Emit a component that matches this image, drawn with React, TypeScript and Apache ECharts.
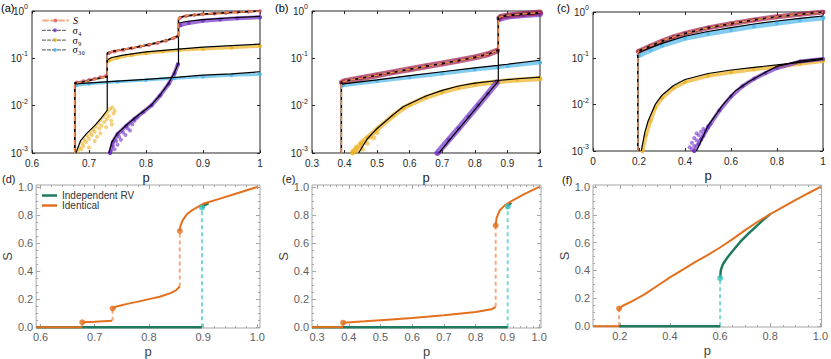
import React, { useEffect, useRef } from 'react';
import * as echarts from 'echarts';

type P = [number, number];

// ================= Panel (a) =================
const aSTheory: P[] = [[0.675,0.001],[0.675,0.03],[0.69,0.032],[0.71,0.036],[0.732,0.041],[0.732,0.13],[0.74,0.14],[0.76,0.155],[0.78,0.17],[0.8,0.19],[0.82,0.215],[0.84,0.25],[0.857,0.295],[0.857,0.68],[0.86,0.74],[0.87,0.79],[0.9,0.86],[0.94,0.92],[1,1.0]];
const aS4Theory: P[] = [[0.735,0.001],[0.74,0.0017],[0.75,0.0026],[0.765,0.0038],[0.78,0.0055],[0.795,0.0075],[0.81,0.0105],[0.825,0.017],[0.84,0.03],[0.85,0.05],[0.857,0.08],[0.857,0.55],[0.87,0.6],[0.9,0.66],[0.95,0.72],[1,0.77]];
const aS9Theory: P[] = [[0.677,0.001],[0.685,0.0018],[0.696,0.0026],[0.71,0.0038],[0.72,0.0052],[0.732,0.008],[0.732,0.093],[0.74,0.104],[0.76,0.117],[0.8,0.137],[0.857,0.157],[0.9,0.172],[0.95,0.186],[1,0.2]];
const aS30Theory: P[] = [[0.675,0.001],[0.675,0.029],[0.75,0.033],[0.8,0.036],[0.857,0.04],[0.9,0.044],[0.95,0.047],[1,0.052]];
const aSSim: P[][] = [
  [[0.678,0.031],[0.69,0.033],[0.70,0.035],[0.71,0.037],[0.72,0.04],[0.73,0.043]],
  [[0.735,0.13],[0.745,0.14],[0.76,0.15],[0.775,0.163],[0.79,0.177],[0.805,0.192],[0.82,0.21],[0.835,0.235],[0.848,0.265],[0.855,0.29]],
  [[0.86,0.72],[0.87,0.78],[0.885,0.82],[0.9,0.85],[0.92,0.88],[0.94,0.91],[0.96,0.94],[0.98,0.97],[1,1]],
];
const aS4Sim: P[][] = [
  [[0.737,0.001],[0.742,0.0017],[0.75,0.0025],[0.765,0.0037],[0.78,0.0053],[0.795,0.0073],[0.81,0.0102],[0.825,0.0165],[0.84,0.029],[0.85,0.048],[0.856,0.075]],
  [[0.86,0.5],[0.875,0.56],[0.9,0.62],[0.93,0.66],[0.96,0.7],[1,0.74]],
];
const aS9Sim: P[][] = [
  [[0.735,0.09],[0.75,0.103],[0.775,0.117],[0.8,0.128],[0.83,0.14],[0.857,0.148],[0.9,0.158],[0.95,0.168],[1,0.18]],
];
const aS30Sim: P[][] = [
  [[0.678,0.027],[0.7,0.029],[0.75,0.032],[0.8,0.035],[0.85,0.038],[0.9,0.041],[0.95,0.044],[1,0.046]],
];
const aS9Cloud: P[] = [[0.68,0.0011],[0.683,0.0013],[0.686,0.0012],[0.688,0.0016],[0.69,0.0014],[0.692,0.0019],[0.695,0.0017],[0.697,0.0023],[0.7,0.002],[0.702,0.0027],[0.705,0.0024],[0.707,0.0031],[0.71,0.0028],[0.712,0.0036],[0.714,0.0022],[0.716,0.0042],[0.718,0.0033],[0.72,0.005],[0.722,0.0038],[0.725,0.0058],[0.727,0.0045],[0.729,0.0066],[0.731,0.0052],[0.733,0.0075],[0.735,0.006],[0.737,0.0085],[0.739,0.0048],[0.741,0.0092],[0.743,0.0068],[0.745,0.0079],[0.7,0.0013],[0.71,0.0018],[0.72,0.0026],[0.73,0.0035],[0.74,0.004]];
const aS4Cloud: P[] = [[0.738,0.0011],[0.742,0.0014],[0.745,0.0012],[0.748,0.0018],[0.75,0.0015],[0.753,0.0022],[0.756,0.0019],[0.76,0.0027],[0.764,0.0024],[0.768,0.0033],[0.772,0.003],[0.776,0.004],[0.78,0.0048],[0.785,0.0056]];

// ================= Panel (b) =================
const bSTheory: P[] = [[0.39,0.001],[0.39,0.031],[0.4,0.033],[0.45,0.038],[0.5,0.044],[0.55,0.051],[0.6,0.059],[0.65,0.068],[0.7,0.078],[0.75,0.09],[0.8,0.105],[0.84,0.122],[0.872,0.15],[0.872,0.72],[0.88,0.77],[0.9,0.81],[0.95,0.87],[1,0.93]];
const bS30Theory: P[] = [[0.39,0.0285],[0.5,0.035],[0.6,0.043],[0.7,0.052],[0.8,0.063],[0.87,0.071],[0.9,0.075],[1,0.091]];
const bS9Theory: P[] = [[0.443,0.001],[0.47,0.002],[0.5,0.0033],[0.55,0.0065],[0.58,0.0095],[0.65,0.016],[0.7,0.021],[0.75,0.026],[0.8,0.03],[0.872,0.034],[0.93,0.037],[1,0.04]];
const bS4Theory: P[] = [[0.69,0.001],[0.72,0.0018],[0.75,0.0032],[0.78,0.0056],[0.81,0.01],[0.84,0.018],[0.872,0.033],[0.872,0.72],[0.88,0.76],[0.9,0.8],[0.95,0.85],[1,0.89]];
const bSSim: P[][] = [
  [[0.392,0.031],[0.4,0.033],[0.45,0.038],[0.5,0.044],[0.55,0.051],[0.6,0.059],[0.65,0.068],[0.7,0.078],[0.75,0.09],[0.8,0.105],[0.84,0.122],[0.868,0.145]],
  [[0.876,0.72],[0.88,0.76],[0.9,0.8],[0.95,0.87],[1,0.93]],
];
const bS30Sim: P[][] = [[[0.395,0.027],[0.5,0.033],[0.6,0.04],[0.7,0.048],[0.8,0.058],[0.87,0.065],[0.9,0.069],[1,0.082]]];
const bS9Sim: P[][] = [[[0.425,0.001],[0.45,0.0016],[0.47,0.0021],[0.5,0.0032],[0.55,0.0062],[0.58,0.0088],[0.6,0.0105],[0.65,0.015],[0.7,0.0195],[0.75,0.024],[0.8,0.028],[0.87,0.032],[0.93,0.035],[1,0.037]]];
const bS4Sim: P[][] = [
  [[0.685,0.001],[0.72,0.0019],[0.75,0.0033],[0.78,0.0058],[0.81,0.0102],[0.84,0.018],[0.868,0.031]],
  [[0.876,0.68],[0.9,0.76],[0.95,0.82],[1,0.86]],
];
const bS9Cloud: P[] = [[0.425,0.0011],[0.435,0.0013],[0.44,0.0011],[0.45,0.0014],[0.455,0.0012],[0.46,0.0017],[0.47,0.0016],[0.48,0.0022],[0.49,0.0021],[0.5,0.0027]];

// ================= Panel (c) =================
const cSTheory: P[] = [[0.195,0.001],[0.195,0.135],[0.2,0.145],[0.25,0.185],[0.3,0.235],[0.35,0.29],[0.4,0.345],[0.5,0.455],[0.6,0.56],[0.7,0.675],[0.8,0.79],[0.9,0.895],[1,1.0]];
const cS30Theory: P[] = [[0.195,0.13],[0.25,0.17],[0.3,0.21],[0.4,0.3],[0.5,0.38],[0.6,0.46],[0.7,0.55],[0.8,0.64],[0.9,0.73],[1,0.82]];
const cS9Theory: P[] = [[0.21,0.001],[0.225,0.0025],[0.24,0.0045],[0.27,0.01],[0.3,0.016],[0.35,0.026],[0.4,0.035],[0.5,0.047],[0.6,0.056],[0.7,0.064],[0.8,0.072],[0.9,0.082],[1,0.095]];
const cS4Theory: P[] = [[0.45,0.001],[0.5,0.0035],[0.565,0.01],[0.62,0.02],[0.675,0.031],[0.75,0.05],[0.8,0.067],[0.9,0.088],[1,0.1]];
const cSSim: P[][] = [[[0.197,0.14],[0.25,0.185],[0.3,0.235],[0.35,0.29],[0.4,0.345],[0.5,0.455],[0.6,0.56],[0.7,0.675],[0.8,0.79],[0.9,0.895],[1,1.0]]];
const cS30Sim: P[][] = [[[0.2,0.115],[0.25,0.15],[0.3,0.19],[0.4,0.27],[0.5,0.34],[0.6,0.41],[0.7,0.49],[0.8,0.57],[0.9,0.66],[1,0.74]]];
const cS9Sim: P[][] = [[[0.215,0.001],[0.23,0.0022],[0.25,0.0045],[0.27,0.0085],[0.3,0.014],[0.35,0.023],[0.4,0.031],[0.5,0.042],[0.6,0.05],[0.7,0.058],[0.8,0.066],[0.9,0.076],[1,0.088]]];
const cS4Sim: P[][] = [[[0.44,0.001],[0.47,0.0018],[0.5,0.0032],[0.55,0.0075],[0.6,0.015],[0.65,0.025],[0.7,0.036],[0.75,0.048],[0.8,0.062],[0.9,0.085],[1,0.097]]];
const cS4Cloud: P[] = [[0.42,0.0012],[0.43,0.0015],[0.44,0.0013],[0.44,0.0019],[0.45,0.0017],[0.46,0.0022],[0.46,0.0014],[0.47,0.0026],[0.48,0.0021],[0.48,0.003],[0.49,0.0027],[0.5,0.0034],[0.51,0.0038],[0.43,0.0011],[0.45,0.0024],[0.47,0.0018]];

// ================= Panel (d) =================
const dIdentical: P[][] = [
  [[0.592,0],[0.677,0]],
  [[0.677,0.035],[0.7,0.039],[0.732,0.045]],
  [[0.733,0.133],[0.74,0.147],[0.76,0.166],[0.78,0.182],[0.8,0.2],[0.82,0.217],[0.84,0.243],[0.85,0.262],[0.857,0.29]],
  [[0.857,0.686],[0.858,0.72],[0.862,0.76],[0.87,0.805],[0.88,0.835],[0.9,0.88],[0.93,0.915],[0.96,0.952],[1,1.0]],
];
const dIdenticalJumps: P[][] = [[[0.677,0],[0.677,0.035]],[[0.733,0.045],[0.733,0.133]],[[0.857,0.29],[0.857,0.686]]];
const dIdenticalDots: P[] = [[0.677,0.035],[0.733,0.133],[0.857,0.686]];
const dIndependent: P[][] = [[[0.592,0],[0.898,0]],[[0.898,0.852],[0.903,0.87],[0.91,0.885]]];
const dIndependentJumps: P[][] = [[[0.898,0],[0.898,0.852]]];
const dIndependentDots: P[] = [[0.898,0.852]];

// ================= Panel (e) =================
const eIdentical: P[][] = [
  [[0.284,0],[0.382,0]],
  [[0.382,0.032],[0.45,0.042],[0.5,0.05],[0.6,0.066],[0.7,0.085],[0.8,0.108],[0.85,0.127],[0.863,0.145]],
  [[0.863,0.725],[0.866,0.78],[0.875,0.83],[0.89,0.865],[0.91,0.895],[0.95,0.945],[1,1.0]],
];
const eIdenticalJumps: P[][] = [[[0.382,0],[0.382,0.032]],[[0.863,0.145],[0.863,0.725]]];
const eIdenticalDots: P[] = [[0.382,0.032],[0.863,0.725]];
const eIndependent: P[][] = [[[0.284,0],[0.901,0]],[[0.901,0.86],[0.906,0.875],[0.912,0.887]]];
const eIndependentJumps: P[][] = [[[0.901,0],[0.901,0.86]]];
const eIndependentDots: P[] = [[0.901,0.86]];

// ================= Panel (f) =================
const fIdentical: P[][] = [
  [[0.093,0],[0.197,0]],
  [[0.197,0.127],[0.21,0.145],[0.25,0.18],[0.3,0.23],[0.35,0.29],[0.4,0.35],[0.45,0.405],[0.5,0.46],[0.55,0.51],[0.6,0.565],[0.65,0.625],[0.7,0.69],[0.75,0.75],[0.8,0.805],[0.85,0.855],[0.9,0.905],[0.95,0.953],[1,1.0]],
];
const fIdenticalJumps: P[][] = [[[0.197,0],[0.197,0.127]]];
const fIdenticalDots: P[] = [[0.197,0.127]];
const fIndependent: P[][] = [
  [[0.197,0],[0.6,0]],
  [[0.6,0.345],[0.603,0.4],[0.61,0.44],[0.62,0.47],[0.63,0.495],[0.65,0.54],[0.68,0.605],[0.71,0.66],[0.74,0.71],[0.77,0.76],[0.8,0.805]],
];
const fIndependentJumps: P[][] = [[[0.6,0],[0.6,0.345]]];
const fIndependentDots: P[] = [[0.6,0.345]];

// ================= Ticks & labels =================
const dXTicks = [0.6, 0.7, 0.8, 0.9, 1.0];
const eXTicks = [0.3, 0.4, 0.5, 0.6, 0.7, 0.8, 0.9, 1.0];
const fXTicks = [0.2, 0.4, 0.6, 0.8, 1.0];
const bottomYTicks = [0, 0.2, 0.4, 0.6, 0.8, 1.0];
const topLegendNames = ['S', 'σ₄', 'σ₉', 'σ₃₀'];
const bottomLegendNames = ['Independent RV', 'Identical'];
const panelLetters = ['(a)', '(b)', '(c)', '(d)', '(e)', '(f)'];

const SANS = '"Liberation Sans", Arial, Helvetica, sans-serif';
const SERIF = '"Liberation Serif", "DejaVu Serif", "Times New Roman", serif';

const C = {
  sA: '#d9546b', s: '#a3204d', s4: '#7231c6', s9: '#edb120', s30: '#4db6e8',
  dash: '#f2874e', orange: '#e2701e', green: '#1f7a5f', orangeLight: '#f5a97c',
  cyan: '#7ad8d4', cyanDot: '#35c4bd', frameTop: '#262626', frameBot: '#a6a6a6', labelBot: '#606060',
};

function minorTicks(a: number, b: number, step: number, major: number[]): number[] {
  const out: number[] = [];
  for (let k = 0; ; k++) {
    const v = +(a + k * step).toFixed(6);
    if (v > b + 1e-9) break;
    if (!major.some((m) => Math.abs(m - v) < 1e-6)) out.push(v);
  }
  return out;
}

function buildOption() {
  const grid: any[] = [];
  const xAxis: any[] = [];
  const yAxis: any[] = [];
  const series: any[] = [];

  const topPanel = (rect: any, xmin: number, xmax: number, xint: number) => {
    const gi = grid.length;
    grid.push({ ...rect, show: true, borderColor: C.frameTop, borderWidth: 1, backgroundColor: 'rgba(0,0,0,0)' });
    const tick = { inside: true, length: 3, lineStyle: { color: C.frameTop, width: 1 } };
    const xb = { type: 'value', gridIndex: gi, min: xmin, max: xmax, interval: xint, axisLine: { show: false, onZero: false }, splitLine: { show: false } };
    const xi = xAxis.length;
    xAxis.push({
      ...xb, position: 'bottom', axisTick: tick,
      axisLabel: { color: C.frameTop, fontSize: 10, fontFamily: SANS, margin: 5, formatter: (v: number) => String(Math.round(v * 10) / 10) },
      name: 'p', nameLocation: 'middle', nameGap: 18, nameTextStyle: { color: C.frameTop, fontSize: 13, fontFamily: SANS },
    });
    xAxis.push({ ...xb, position: 'top', axisTick: tick, axisLabel: { show: false } });
    const yb = { type: 'log', logBase: 10, gridIndex: gi, min: 0.001, max: 1, axisLine: { show: false, onZero: false }, splitLine: { show: false } };
    const yi = yAxis.length;
    yAxis.push({
      ...yb, position: 'left', axisTick: tick,
      axisLabel: {
        margin: 4,
        formatter: (v: number) => `{b|10}{s|${Math.round(Math.log10(v))}}`,
        rich: {
          b: { fontSize: 10, fontFamily: SANS, color: C.frameTop, lineHeight: 16 },
          s: { fontSize: 7, fontFamily: SANS, color: C.frameTop, verticalAlign: 'top' },
        },
      },
    });
    yAxis.push({ ...yb, position: 'right', axisTick: tick, axisLabel: { show: false } });
    return { xi, yi };
  };

  const botPanel = (rect: any, xmin: number, xmax: number, xMaj: number[], xMin: number[]) => {
    const gi = grid.length;
    grid.push({ ...rect, show: true, borderColor: C.frameBot, borderWidth: 1, backgroundColor: 'rgba(0,0,0,0)' });
    const tk = (len: number, vals: number[]) => ({ inside: true, length: len, lineStyle: { color: C.frameBot, width: 1 }, customValues: vals });
    const xb = { type: 'value', gridIndex: gi, min: xmin, max: xmax, axisLine: { show: false, onZero: false }, splitLine: { show: false } };
    const xi = xAxis.length;
    xAxis.push({
      ...xb, position: 'bottom', axisTick: tk(4, xMaj),
      axisLabel: { customValues: xMaj, color: C.labelBot, fontSize: 11, fontFamily: SANS, margin: 3, formatter: (v: number) => v.toFixed(1) },
      name: 'p', nameLocation: 'middle', nameGap: 17, nameTextStyle: { color: '#444', fontSize: 13, fontFamily: SANS },
    });
    xAxis.push({ ...xb, position: 'bottom', axisTick: tk(2, xMin), axisLabel: { show: false } });
    xAxis.push({ ...xb, position: 'top', axisTick: tk(4, xMaj), axisLabel: { show: false } });
    xAxis.push({ ...xb, position: 'top', axisTick: tk(2, xMin), axisLabel: { show: false } });
    const yMin = minorTicks(0, 1, 0.05, bottomYTicks);
    const yb = { type: 'value', gridIndex: gi, min: -0.006, max: 1.014, axisLine: { show: false, onZero: false }, splitLine: { show: false } };
    const yi = yAxis.length;
    yAxis.push({
      ...yb, position: 'left', axisTick: tk(4, bottomYTicks),
      axisLabel: { customValues: bottomYTicks, color: C.labelBot, fontSize: 11, fontFamily: SANS, margin: 3, formatter: (v: number) => v.toFixed(1) },
      name: 'S', nameLocation: 'middle', nameGap: 19, nameRotate: 90, nameTextStyle: { color: '#444', fontSize: 13, fontFamily: SANS },
    });
    yAxis.push({ ...yb, position: 'left', axisTick: tk(2, yMin), axisLabel: { show: false } });
    yAxis.push({ ...yb, position: 'right', axisTick: tk(4, bottomYTicks), axisLabel: { show: false } });
    yAxis.push({ ...yb, position: 'right', axisTick: tk(2, yMin), axisLabel: { show: false } });
    return { xi, yi };
  };

  type Ax = { xi: number; yi: number };
  const theory = (ax: Ax, data: P[], width = 1.2) =>
    series.push({ type: 'line', xAxisIndex: ax.xi, yAxisIndex: ax.yi, data, symbol: 'none', silent: true, lineStyle: { color: '#000', width }, z: 4 });
  const sLine = (ax: Ax, data: P[]) => {
    series.push({ type: 'line', xAxisIndex: ax.xi, yAxisIndex: ax.yi, data, symbol: 'none', silent: true, lineStyle: { color: '#000', width: 1.6 }, z: 5 });
    series.push({ type: 'line', xAxisIndex: ax.xi, yAxisIndex: ax.yi, data, symbol: 'none', silent: true, lineStyle: { color: C.dash, width: 1.6, type: [5, 3] }, z: 6 });
  };
  const band = (ax: Ax, segs: P[][], color: string, width: number, name?: string, size = 4) =>
    segs.forEach((seg) =>
      series.push({
        type: 'line', name, xAxisIndex: ax.xi, yAxisIndex: ax.yi, data: seg, symbol: 'circle', symbolSize: size,
        showSymbol: true, showAllSymbol: true, silent: true, z: 2,
        itemStyle: { color, opacity: 0.75 }, lineStyle: { color, width, opacity: 0.7, cap: 'round', join: 'round' },
      }));
  const cloud = (ax: Ax, data: P[], color: string, size = 4) =>
    series.push({ type: 'scatter', xAxisIndex: ax.xi, yAxisIndex: ax.yi, data, symbolSize: size, silent: true, z: 2, itemStyle: { color, opacity: 0.6 } });
  const solid = (ax: Ax, segs: P[][], color: string, width: number, name?: string) =>
    segs.forEach((seg) => series.push({ type: 'line', name, xAxisIndex: ax.xi, yAxisIndex: ax.yi, data: seg, symbol: 'none', silent: true, z: 3, itemStyle: { color }, lineStyle: { color, width } }));
  const dashed = (ax: Ax, segs: P[][], color: string) =>
    segs.forEach((seg) => series.push({ type: 'line', xAxisIndex: ax.xi, yAxisIndex: ax.yi, data: seg, symbol: 'none', silent: true, z: 2, lineStyle: { color, width: 2, type: [4, 3] } }));
  const dots = (ax: Ax, data: P[], color: string) =>
    series.push({ type: 'scatter', xAxisIndex: ax.xi, yAxisIndex: ax.yi, data, symbolSize: 6, silent: true, z: 5, itemStyle: { color } });

  // ---- top row ----
  const A = topPanel({ left: 32, top: 11, width: 228, height: 142 }, 0.6, 1, 0.1);
  band(A, aSSim, C.sA, 2, topLegendNames[0], 4);
  band(A, aS4Sim, C.s4, 4, topLegendNames[1]);
  band(A, aS9Sim, C.s9, 3, topLegendNames[2]);
  band(A, aS30Sim, C.s30, 3, topLegendNames[3]);
  cloud(A, aS9Cloud, C.s9);
  cloud(A, aS4Cloud, C.s4);
  theory(A, aS30Theory); theory(A, aS9Theory); theory(A, aS4Theory);
  sLine(A, aSTheory);

  const B = topPanel({ left: 312, top: 11, width: 228, height: 142 }, 0.3, 1, 0.1);
  band(B, bS30Sim, C.s30, 4);
  band(B, bS9Sim, C.s9, 5);
  cloud(B, bS9Cloud, C.s9, 5);
  band(B, bS4Sim, C.s4, 6);
  band(B, bSSim, C.s, 6);
  theory(B, bS30Theory); theory(B, bS9Theory); theory(B, bS4Theory);
  sLine(B, bSTheory);

  const Cc = topPanel({ left: 593, top: 12, width: 230, height: 139 }, 0, 1, 0.2);
  band(Cc, cS30Sim, C.s30, 5);
  band(Cc, cS9Sim, C.s9, 4);
  band(Cc, cS4Sim, C.s4, 4);
  cloud(Cc, cS4Cloud, C.s4);
  band(Cc, cSSim, C.s, 5);
  theory(Cc, cS30Theory); theory(Cc, cS9Theory); theory(Cc, cS4Theory);
  sLine(Cc, cSTheory);

  // ---- bottom row ----
  const D = botPanel({ left: 32, top: 185, width: 228, height: 143 }, 0.592, 1.005, dXTicks, minorTicks(0.6, 1.0, 0.02, dXTicks));
  solid(D, dIndependent, C.green, 2.5, bottomLegendNames[0]);
  solid(D, dIdentical, C.orange, 2, bottomLegendNames[1]);
  dashed(D, dIdenticalJumps, C.orangeLight); dashed(D, dIndependentJumps, C.cyan);
  dots(D, dIdenticalDots, C.orange); dots(D, dIndependentDots, C.cyanDot);

  const E = botPanel({ left: 312, top: 185, width: 229, height: 143 }, 0.284, 1.006, eXTicks, minorTicks(0.3, 1.0, 0.02, eXTicks));
  solid(E, eIndependent, C.green, 2.5);
  solid(E, eIdentical, C.orange, 2);
  dashed(E, eIdenticalJumps, C.orangeLight); dashed(E, eIndependentJumps, C.cyan);
  dots(E, eIdenticalDots, C.orange); dots(E, eIndependentDots, C.cyanDot);

  const F = botPanel({ left: 593, top: 185, width: 230, height: 142 }, 0.093, 1.005, fXTicks, minorTicks(0.1, 1.0, 0.05, fXTicks));
  solid(F, fIndependent, C.green, 2.5);
  solid(F, fIdentical, C.orange, 2);
  dashed(F, fIdenticalJumps, C.orangeLight); dashed(F, fIndependentJumps, C.cyan);
  dots(F, fIdenticalDots, C.orange); dots(F, fIndependentDots, C.cyanDot);

  // ---- legends ----
  const legendStyles = [
    { line: { color: C.dash, width: 2, type: [5, 3] }, item: { color: C.sA } },
    { line: { color: '#000', width: 1, type: [3, 2] }, item: { color: C.s4 } },
    { line: { color: '#000', width: 1, type: [3, 2] }, item: { color: C.s9 } },
    { line: { color: '#000', width: 1, type: [3, 2] }, item: { color: C.s30 } },
  ];
  const topTops = [15.5, 25.3, 35.1, 44.9];
  const legends: any[] = topLegendNames.map((n, k) => ({
    left: 42, top: topTops[k], padding: 0, itemWidth: 25, itemHeight: 5, itemGap: 0, selectedMode: false,
    data: [{ name: n, lineStyle: legendStyles[k].line, itemStyle: legendStyles[k].item }],
    textStyle: { fontFamily: SERIF, fontStyle: k === 0 ? 'italic' : 'normal', fontSize: 10, lineHeight: 9, color: '#000', padding: 0 },
  }));
  const botTops = [190.5, 200.5];
  const botColors = [C.green, C.orange];
  bottomLegendNames.forEach((n, k) =>
    legends.push({
      left: 42, top: botTops[k], padding: 0, itemWidth: 15, itemHeight: 2.5, itemGap: 0, selectedMode: false,
      data: [{ name: n, icon: 'rect', itemStyle: { color: botColors[k] } }],
      textStyle: { fontFamily: SANS, fontSize: 10, lineHeight: 9, color: '#333', padding: 0 },
    }));

  const letterPos = [[1, 2], [275, 2], [557, 2], [2, 173], [282, 173], [562, 174]];
  const graphic = panelLetters.map((t, k) => ({
    type: 'text', left: letterPos[k][0], top: letterPos[k][1], silent: true,
    style: { text: t, fontFamily: SANS, fontSize: 11, fill: k < 3 ? '#000' : '#222' },
  }));

  return { animation: false, backgroundColor: '#fff', grid, xAxis, yAxis, series, legend: legends, graphic };
}

export default function App() {
  const ref = useRef<HTMLDivElement>(null);
  useEffect(() => {
    if (!ref.current) return;
    const chart = echarts.init(ref.current, undefined, { renderer: 'svg' });
    chart.setOption(buildOption() as any);
    return () => chart.dispose();
  }, []);
  return <div ref={ref} style={{ position: 'fixed', left: 0, top: 0, width: 831, height: 359, background: '#fff' }} />;
}
